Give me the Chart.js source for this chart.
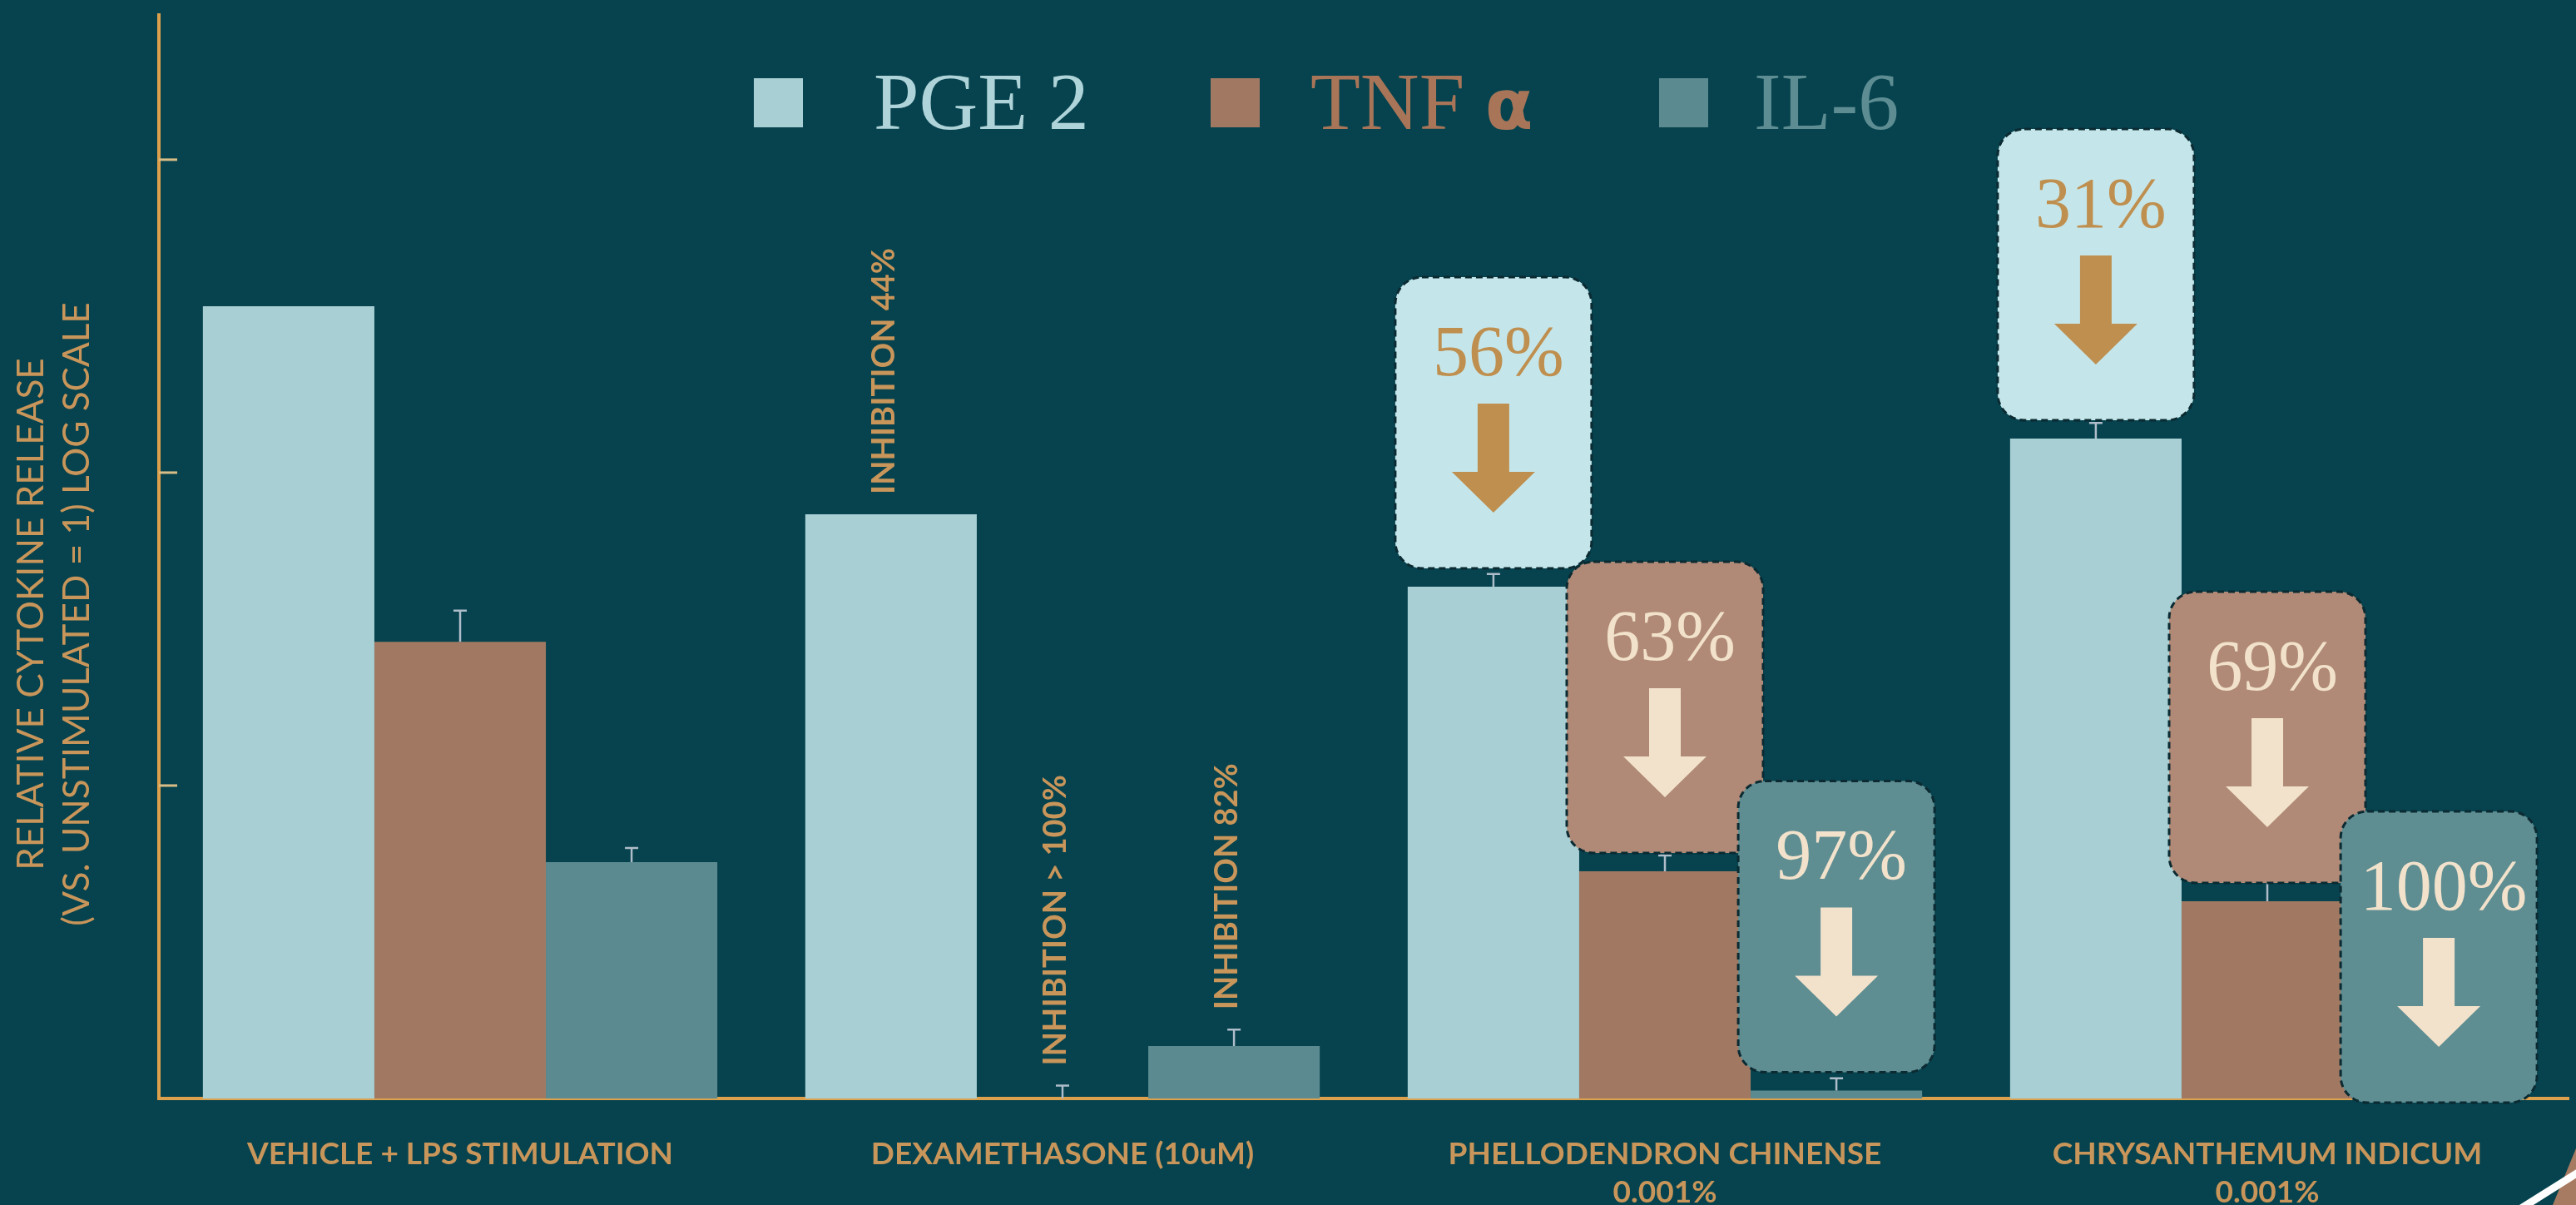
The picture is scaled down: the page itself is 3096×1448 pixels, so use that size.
<!DOCTYPE html>
<html>
<head>
<meta charset="utf-8">
<script src="https://cdn.jsdelivr.net/npm/chart.js@4.4.1/dist/chart.umd.min.js"></script>
<style>
  html, body { margin: 0; padding: 0; background: #06434e; }
  canvas { display: block; }
</style>
</head>
<body>
<canvas id="chart" width="3096" height="1448"></canvas>
<script>
// categorias
const categories = [
    'VEHICLE + LPS STIMULATION',
    'DEXAMETHASONE (10uM)',
    ['PHELLODENDRON CHINENSE', '0.001%'],
    ['CHRYSANTHEMUM INDICUM', '0.001%']
];

// valores (relative release, unstimulated = 1)
const pge2 = [340, 73.6, 43.2, 128.5];
const tnf = [28.8, 1, 5.32, 4.27];
const il6 = [5.69, 1.47, 1.06, 1];

// top of error bars
const pge2Err = [null, null, 47.4, 144];
const tnfErr = [36.2, 1.1, 5.98, 4.92];
const il6Err = [6.32, 1.66, 1.16, null];

// boxes with percent + arrow
const pge2Pct = [null, null, '56%', '31%'];
const tnfPct = [null, null, '63%', '69%'];
const il6Pct = [null, null, '97%', '100%'];

// rotated notes
const pge2Note = [null, 'INHIBITION 44%', null, null];
const tnfNote = [null, 'INHIBITION > 100%', null, null];
const il6Note = [null, 'INHIBITION 82%', null, null];

// y ticks (log)
const yTicks = [10, 100, 1000];

const GOLD = '#c8955a';
const AXIS = '#dda14d';

const errs = [pge2Err, tnfErr, il6Err];
const pcts = [pge2Pct, tnfPct, il6Pct];
const notes = [pge2Note, tnfNote, il6Note];
const boxFill = ['#c4e6ea', '#b08a76', '#5e8d92'];
const boxInk = ['#bf8f4f', '#f2e2cb', '#f2e2cb'];
const legendInk = ['#aed3d8', '#a87558', '#5d8d93'];
const legendBoxX = [906, 1455, 1994];
const legendTextX = [1050, 1575, 2108];

// fondo
const bgPlugin = {
    id: 'bg',
    beforeDraw(chart) {
        const c = chart.ctx;
        c.save();
        c.fillStyle = '#06434e';
        c.fillRect(0, 0, chart.width, chart.height);
        c.restore();
    }
};

// extras: ticks, error bars, notes, boxes, legend
const extras = {
    id: 'extras',
    afterDraw(chart) {
        const c = chart.ctx;
        const y = chart.scales.y;
        const area = chart.chartArea;
        c.save();

        // ticks inside
        c.strokeStyle = '#d8bd86';
        c.lineWidth = 3;
        yTicks.forEach(v => {
            const py = y.getPixelForValue(v);
            c.beginPath();
            c.moveTo(area.left, py);
            c.lineTo(area.left + 22, py);
            c.stroke();
        });

        // y title
        c.fillStyle = GOLD;
        c.font = '44px Lato';
        c.textAlign = 'center';
        c.textBaseline = 'middle';
        c.save();
        c.translate(38, 738);
        c.rotate(-Math.PI / 2);
        c.fillText('RELATIVE CYTOKINE RELEASE', 0, 0);
        c.fillText('(VS. UNSTIMULATED = 1) LOG SCALE', 0, 55);
        c.restore();

        chart.data.datasets.forEach((ds, i) => {
            const meta = chart.getDatasetMeta(i);
            meta.data.forEach((bar, j) => {
                let top = bar.y;

                // error bar
                if (errs[i][j] != null) {
                    const ey = y.getPixelForValue(errs[i][j]);
                    c.strokeStyle = '#aebdc9';
                    c.lineWidth = 2.5;
                    c.beginPath();
                    c.moveTo(bar.x, bar.y);
                    c.lineTo(bar.x, ey);
                    c.moveTo(bar.x - 8, ey);
                    c.lineTo(bar.x + 8, ey);
                    c.stroke();
                    top = ey;
                }

                // rotated note
                if (notes[i][j]) {
                    c.save();
                    c.translate(bar.x - 8, top - 24);
                    c.rotate(-Math.PI / 2);
                    c.fillStyle = GOLD;
                    c.font = 'bold 38px Lato';
                    c.textAlign = 'left';
                    c.textBaseline = 'middle';
                    c.fillText(notes[i][j], 0, 0);
                    c.restore();
                }

                // box
                if (pcts[i][j]) {
                    const w = 236, h = 350;
                    const bottom = (bar.base - bar.y) < 1 ? bar.base + 5 : bar.y - 22;
                    const bx = bar.x - w / 2, by = bottom - h;
                    c.beginPath();
                    c.roundRect(bx, by, w, h, 32);
                    c.fillStyle = boxFill[i];
                    c.fill();
                    c.setLineDash([8, 5]);
                    c.strokeStyle = '#0b2a32';
                    c.lineWidth = 3;
                    c.stroke();
                    c.setLineDash([]);

                    c.fillStyle = boxInk[i];
                    c.font = '86px "Liberation Serif"';
                    c.textAlign = 'center';
                    c.textBaseline = 'alphabetic';
                    c.fillText(pcts[i][j], bar.x + 6, by + 118);

                    // flecha
                    c.beginPath();
                    c.moveTo(bar.x - 19, by + 152);
                    c.lineTo(bar.x + 19, by + 152);
                    c.lineTo(bar.x + 19, by + 234);
                    c.lineTo(bar.x + 50, by + 234);
                    c.lineTo(bar.x, by + 283);
                    c.lineTo(bar.x - 50, by + 234);
                    c.lineTo(bar.x - 19, by + 234);
                    c.closePath();
                    c.fill();
                }
            });
        });

        // leyenda
        c.textAlign = 'left';
        c.textBaseline = 'alphabetic';
        chart.data.datasets.forEach((ds, i) => {
            c.fillStyle = ds.backgroundColor;
            c.fillRect(legendBoxX[i], 94, 59, 59);
            c.fillStyle = legendInk[i];
            const parts = ds.label.split(' α');
            c.font = '98px "Liberation Serif"';
            c.fillText(parts[0], legendTextX[i], 155);
            if (parts.length > 1) {
                const ax = legendTextX[i] + c.measureText(parts[0] + ' ').width;
                c.font = 'bold 84px "DejaVu Sans"';
                c.fillText('α', ax, 155);
            }
        });

        // corner deco
        c.fillStyle = '#a77a62';
        c.beginPath();
        c.moveTo(3096, 1380);
        c.lineTo(3068, 1448);
        c.lineTo(3096, 1448);
        c.closePath();
        c.fill();
        c.strokeStyle = '#ffffff';
        c.lineWidth = 9;
        c.beginPath();
        c.moveTo(3030, 1452);
        c.lineTo(3100, 1408);
        c.stroke();

        c.restore();
    }
};

const ctx = document.getElementById('chart');

new Chart(ctx, {
    type: 'bar',
    data: {
        labels: categories,
        datasets: [
            { label: 'PGE 2', data: pge2, backgroundColor: '#a8cfd4' },
            { label: 'TNF α', data: tnf, backgroundColor: '#a17962' },
            { label: 'IL-6', data: il6, backgroundColor: '#5b8b90' }
        ]
    },
    options: {
        responsive: false,
        devicePixelRatio: 1,
        animation: false,
        categoryPercentage: 0.854,
        barPercentage: 1,
        layout: { padding: { top: 18, right: 9, left: 0, bottom: 0 } },
        plugins: {
            legend: { display: false },
            tooltip: { enabled: false }
        },
        scales: {
            x: {
                grid: { display: false, drawTicks: false },
                border: { color: AXIS, width: 4 },
                ticks: {
                    color: GOLD,
                    font: { family: 'Lato', size: 37, weight: 'bold', lineHeight: 1.25 },
                    padding: 44,
                    autoSkip: false,
                    maxRotation: 0
                },
                afterFit(s) { s.height = 128; }
            },
            y: {
                type: 'logarithmic',
                min: 1,
                max: 2900,
                grid: { display: false, drawTicks: false },
                border: { color: AXIS, width: 4 },
                ticks: { display: false },
                afterFit(s) { s.width = 191; }
            }
        }
    },
    plugins: [bgPlugin, extras]
});
</script>
</body>
</html>
